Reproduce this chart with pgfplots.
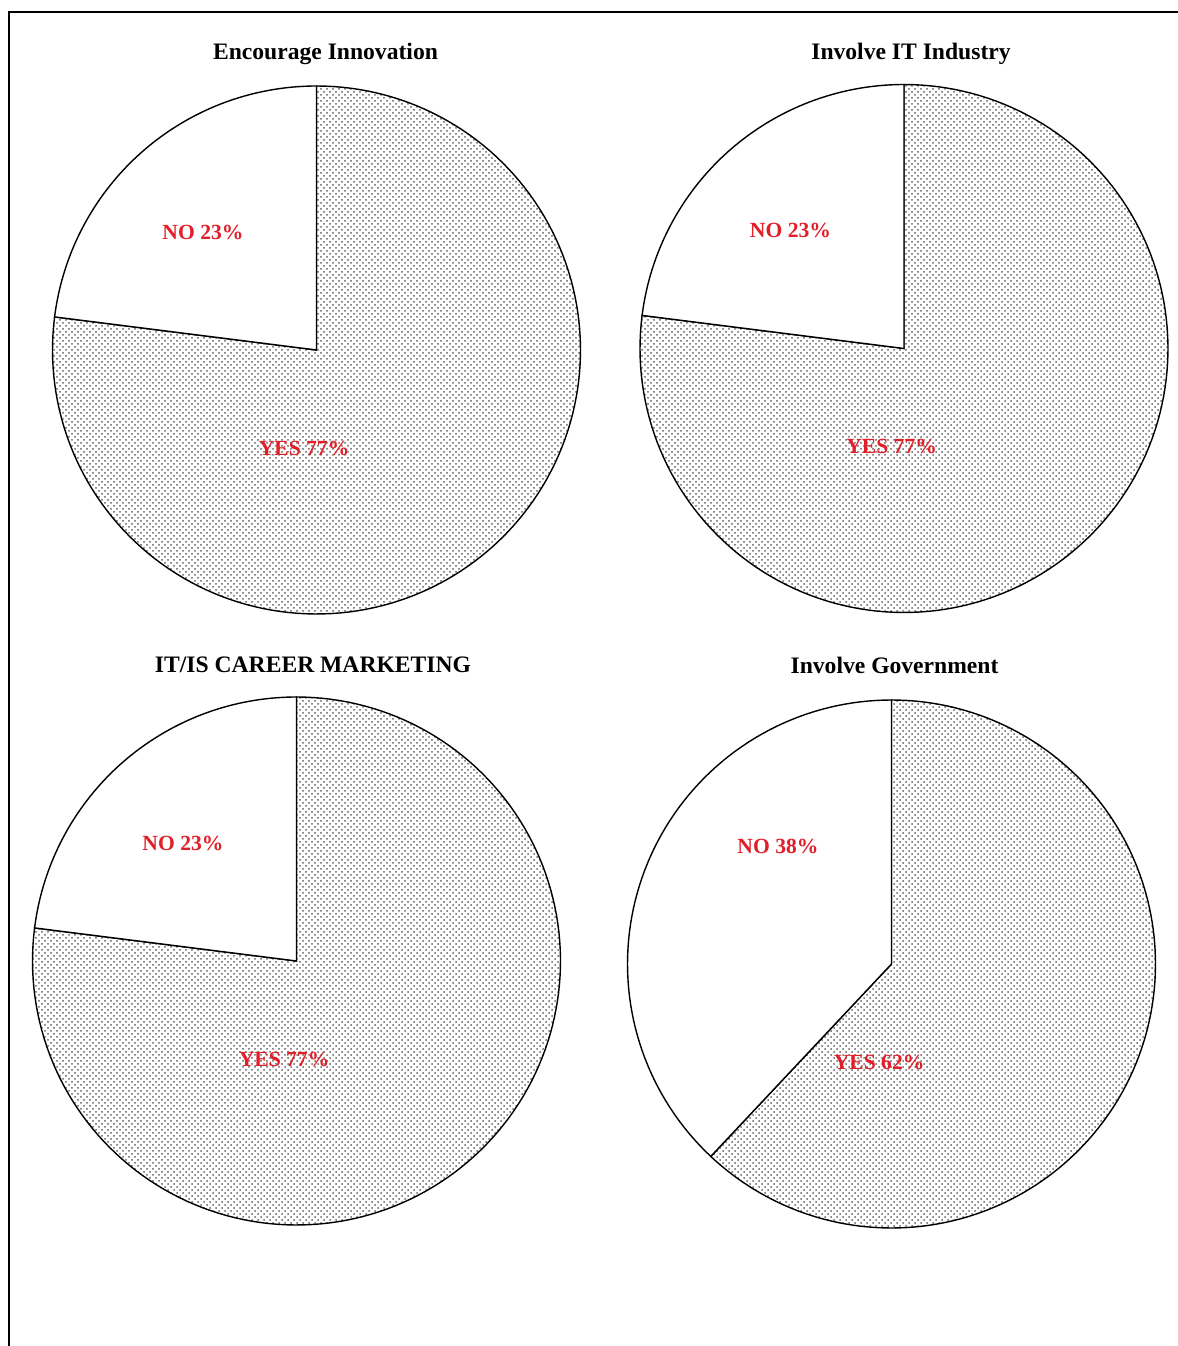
\documentclass[border=0pt]{standalone}
\usepackage{fontspec}
\setmainfont{Liberation Serif}
\usepackage{pgfplots}
\pgfplotsset{compat=1.18}
\usetikzlibrary{patterns}
\definecolor{lblred}{RGB}{226,30,40}

% #1,#2 centre of the pie (units of 0.5pt, measured from the top-left corner),
% #3 YES share, #4 NO share
\newcommand{\surveypie}[4]{%
  \pgfmathsetmacro\splitangle{90+3.6*#4}%
  \pgfmathsetmacro\piex{0.5*#1}%
  \pgfmathsetmacro\piey{0.5*(1346-#2)}%
  \begin{axis}[at={(\piex pt,\piey pt)}, anchor=center, scale only axis,
      width=264pt, height=264pt,
      xmin=-1, xmax=1, ymin=-1, ymax=1, hide axis, clip=false]
    \addplot[draw=black, line width=0.7pt, pattern=crosshatch dots,
      pattern color=black!62, domain=\splitangle:450, samples=150]
      ({cos(x)},{sin(x)}) -- (axis cs:0,0) -- cycle;
    \addplot[draw=black, line width=0.7pt, fill=white,
      domain=90:\splitangle, samples=80]
      ({cos(x)},{sin(x)}) -- (axis cs:0,0) -- cycle;
    \node[text=lblred, font=\bfseries\fontsize{10.8}{13}\selectfont]
      at (axis cs:-0.43,0.447) {NO #4\%};
    \node[text=lblred, font=\bfseries\fontsize{10.8}{13}\selectfont]
      at (axis cs:-0.047,-0.372) {YES #3\%};
  \end{axis}%
}

% title centred at (#1,#2) in the same top-left based units
\newcommand{\pietitle}[3]{%
  \pgfmathsetmacro\tx{0.5*#1}%
  \pgfmathsetmacro\ty{0.5*(1346-#2)}%
  \node[font=\bfseries\fontsize{11.8}{14}\selectfont] at (\tx pt,\ty pt) {#3};%
}

\begin{document}
\begin{tikzpicture}
  \path[use as bounding box] (0pt,0pt) rectangle (589pt,673pt);
  % page frame
  \draw[line width=1pt] (4.5pt,0pt) -- (4.5pt,666.75pt) -- (589pt,666.75pt);

  \surveypie{316.5}{350}{77}{23}
  \surveypie{904}{348.5}{77}{23}
  \surveypie{296.5}{961}{77}{23}
  \surveypie{891.5}{964}{62}{38}

  \pietitle{325.5}{54}{Encourage Innovation}
  \pietitle{911}{54}{Involve IT Industry}
  \pietitle{313}{665}{IT/IS CAREER MARKETING}
  \pietitle{894.5}{665}{Involve Government}
\end{tikzpicture}
\end{document}
